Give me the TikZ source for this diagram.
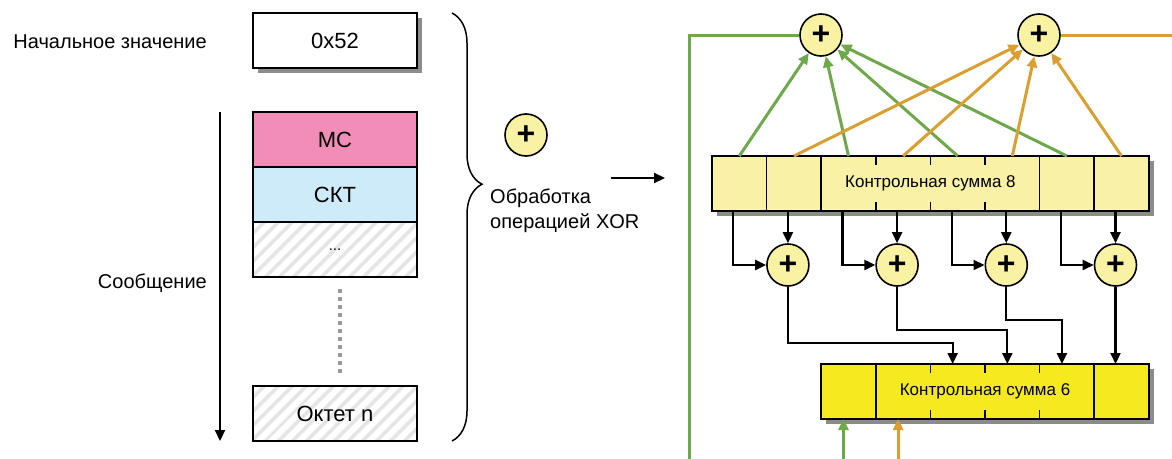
\documentclass[tikz,border=0pt]{standalone}
\usepackage{fontspec}
\setmainfont{Liberation Sans}
\usetikzlibrary{arrows.meta,shadows,patterns.meta,decorations.pathreplacing}
\definecolor{mcpink}{HTML}{F28DB8}
\definecolor{cktblue}{HTML}{CDEBF8}
\definecolor{sumpale}{HTML}{F9F1A5}
\definecolor{sumbright}{HTML}{F5EA1E}
\definecolor{xorfill}{HTML}{F8F2A2}
\definecolor{xgreen}{HTML}{6FA84A}
\definecolor{xorange}{HTML}{D9A031}
\tikzset{
  lbl/.style={inner sep=0pt, font=\fontsize{20}{25}\selectfont},
  octet/.style={draw, line width=1.6pt, outer sep=0pt, minimum width=164pt, minimum height=55pt, inner sep=0pt, font=\fontsize{22}{25}\selectfont},
  hatched/.style={pattern={Lines[angle=45,distance=10.5pt,line width=4pt]}, pattern color=black!10},
  shade/.style={drop shadow={shadow xshift=5pt, shadow yshift=-5pt, fill=black!45, opacity=1}},
  sumbox/.style={draw, line width=1.6pt, outer sep=0pt, minimum height=55pt, inner sep=0pt, font=\fontsize{17}{20}\selectfont, shade},
  xorc/.style={circle, draw, line width=1.6pt, fill=xorfill, minimum size=42pt, inner sep=0pt, font=\fontsize{32}{32}\selectfont\bfseries},
  conn/.style={line width=2.2pt, -{Triangle[length=11pt,width=10pt]}},
  gconn/.style={conn, xgreen, line width=3pt},
  oconn/.style={conn, xorange, line width=3pt},
}
\begin{document}
\begin{tikzpicture}[x=1pt, y=-1pt]
\clip (0,0) rectangle (1172,458);

% initial value and message octets
\node[octet, fill=white, shade] (init) at (335,40.5) {0x52};
\node[lbl, anchor=east] (initlbl) at (207,42) {Начальное значение};
\node[octet, fill=mcpink] (mc) at (335,139.5) {МС};
\node[octet, fill=cktblue, anchor=north] (ckt) at (mc.south) {СКТ};
\node[octet, hatched, anchor=north, font=\fontsize{15}{15}\selectfont] (more) at (ckt.south) {...};
\node[octet, hatched] (octn) at (335,413.5) {Октет n};
\draw[line width=4pt, black!40, dash pattern=on 4pt off 4pt] ([xshift=5pt,yshift=-12pt]more.south) -- ([xshift=5pt,yshift=13pt]octn.north);

\coordinate (msgtop) at ([xshift=-33pt]mc.north west);
\coordinate (msgend) at ([xshift=-33pt]octn.south west);
\draw[conn] (msgtop) -- (msgend);
\node[lbl, anchor=east] (msglbl) at (207,283) {Сообщение};

\draw[decorate, decoration={brace, amplitude=30pt, aspect=0.4}, line width=1.5pt] (452,13) -- (452,441);

% xor legend
\node[xorc] (xorkey) at (526,135) {+};
\node[lbl, anchor=west, align=left] (xorlbl) at (490,211) {Обработка\\операцией XOR};
\coordinate (pa) at (611,178);
\coordinate (pb) at (665,178);
\draw[conn] (pa) -- (pb);

% checksum registers
\node[sumbox, fill=sumpale, minimum width=436.8pt] (cs8) at (930.4,183.5) {Контрольная сумма 8};
\node[sumbox, fill=sumbright, minimum width=327.6pt] (cs6) at (985,391.5) {Контрольная сумма 6};
\foreach \i in {1,2,6,7}
  \draw[line width=1.6pt] ([xshift=54.6*\i]cs8.north west) -- ([xshift=54.6*\i]cs8.south west);
\foreach \i in {3,4,5} {
  \draw[line width=1.6pt] ([xshift=54.6*\i]cs8.north west) -- ++(0,9);
  \draw[line width=1.6pt] ([xshift=54.6*\i]cs8.south west) -- ++(0,-9);
}
\foreach \i in {1,5}
  \draw[line width=1.6pt] ([xshift=54.6*\i]cs6.north west) -- ([xshift=54.6*\i]cs6.south west);
\foreach \i in {2,3,4} {
  \draw[line width=1.6pt] ([xshift=54.6*\i]cs6.north west) -- ++(0,9);
  \draw[line width=1.6pt] ([xshift=54.6*\i]cs6.south west) -- ++(0,-9);
}
\foreach \i in {1,...,8} {
  \coordinate (t\i) at ([xshift=54.6*\i-27.3]cs8.north west);
  \coordinate (b\i) at ([xshift=54.6*\i-33.3]cs8.south west);
}
\foreach \i in {1,...,6} {
  \coordinate (u\i) at ([xshift=54.6*\i-32.3]cs6.north west);
  \coordinate (v\i) at ([xshift=54.6*\i-32.3]cs6.south west);
}

% top xor stage
\node[xorc] (xa) at (821,35) {+};
\node[xorc] (xb) at (1039,35) {+};
\foreach \i in {1,3,5,7} \draw[gconn] (t\i) -- (xa);
\foreach \i in {2,4,6,8} \draw[oconn] (t\i) -- (xb);

% pairwise xor stage
\foreach \j/\i in {1/2,2/4,3/6,4/8}
  \node[xorc] (m\j) at ([yshift=-54pt]b\i) {+};
\foreach \j/\i/\k in {1/1/2,2/3/4,3/5/6,4/7/8} {
  \draw[conn] (b\i) |- (m\j);
  \draw[conn] (b\k) -- (m\j);
}
\draw[conn] (m1) -- ++(0,78) -| (u3);
\draw[conn] (m2) -- ++(0,65) -| (u4);
\draw[conn] (m3) -- ++(0,55) -| (u5);
\draw[conn] (m4) -- (m4 |- u6);

% feedback into checksum 6
\coordinate (gturn) at (689,470);
\coordinate (oturn) at (1190,470);
\draw[gconn] (xa) -| (gturn) -| (v1);
\draw[oconn] (xb) -| (oturn) -| (v2);
\end{tikzpicture}
\end{document}
